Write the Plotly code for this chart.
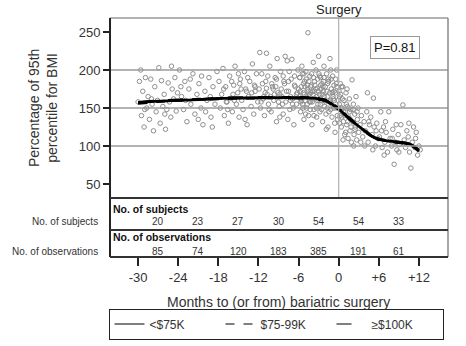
import plotly.graph_objects as go

W, H = 466, 346

# ---------------- data ----------------
scatter_x = [
    -30.0,-29.8,-29.6,-29.5,-29.3,-29.1,-28.9,-28.7,-28.5,-28.3,-28.1,-27.9,-27.7,-27.5,-27.3,-27.1,-26.9,-26.7,-26.5,-26.3,-26.1,-25.9,-25.7,-25.5,-25.3,-25.1,-24.9,-24.7,-24.5,-24.3,-24.1,-25.0,-28.0,-29.0,-26.0,
    -23.8,-23.5,-23.2,-23.0,-22.7,-22.4,-22.1,-21.8,-21.5,-21.2,-20.9,-20.6,-20.3,-20.0,-19.7,-19.4,-19.1,-18.8,-18.5,-18.2,-22.9,-21.0,-19.9,-23.6,-20.5,-18.9,-22.2,-19.2,
    -17.9,-17.7,-17.5,-17.3,-17.1,-16.9,-16.7,-16.5,-16.3,-16.1,-15.9,-15.7,-15.5,-15.3,-15.1,-14.9,-14.7,-14.5,-14.3,-14.1,-13.9,-13.7,-13.5,-13.3,-13.1,-12.9,-12.7,-12.5,-12.3,-12.1,-17.2,-16.0,-15.0,-14.0,-13.0,-12.6,-16.6,-15.6,-14.6,-13.6,
    -11.9,-11.7,-11.5,-11.3,-11.1,-10.9,-10.7,-10.5,-10.3,-10.1,-9.9,-9.7,-9.5,-9.3,-9.1,-8.9,-8.7,-8.5,-8.3,-8.1,-7.9,-7.7,-7.5,-7.3,-7.1,-6.9,-6.7,-6.5,-6.3,-6.1,-11.8,-10.8,-9.2,-8.0,-7.0,-11.0,-10.0,-9.0,-8.6,-7.6,-6.6,-10.4,-9.6,-8.2,-7.2,-6.2,-11.4,-10.6,-9.4,-8.8,-7.4,-6.8,-11.6,-10.2,-8.4,
    -5.9,-5.8,-5.7,-5.6,-5.5,-5.4,-5.3,-5.2,-5.1,-5.0,-4.9,-4.8,-4.7,-4.6,-4.5,-4.4,-4.3,-4.2,-4.1,-4.0,-3.9,-3.8,-3.7,-3.6,-3.5,-3.4,-3.3,-3.2,-3.1,-3.0,-2.9,-2.8,-2.7,-2.6,-2.5,-2.4,-2.3,-2.2,-2.1,-2.0,-1.9,-1.8,-1.7,-1.6,-1.5,-1.4,-1.3,-1.2,-1.1,-1.0,-0.9,-0.8,-0.7,-0.6,-0.5,-0.4,-0.3,-0.2,-0.1,
    -5.75,-5.25,-4.75,-4.25,-3.75,-3.25,-2.75,-2.25,-1.75,-1.25,-0.75,-0.25,-5.45,-4.95,-4.45,-3.95,-3.45,-2.95,-2.45,-1.95,-1.45,-0.95,-0.45,-5.65,-5.15,-4.65,-4.15,-3.65,-3.15,-2.65,-2.15,-1.65,-1.15,-0.65,-0.15,-0.55,-1.85,
    -7.8,-7.5,-7.2,-6.9,-6.6,-6.3,-6.0,-5.85,-5.55,-5.35,-5.05,-4.85,-4.55,-4.35,-4.05,-3.85,-3.55,-3.35,-3.05,-2.85,-2.55,-2.35,-2.05,-1.55,-1.35,-1.05,-0.85,-0.35,-0.05,
    -5.7,-5.2,-4.7,-4.2,-3.7,-3.2,-2.7,-2.2,-1.7,-1.2,-0.7,
    -9.8,-9.3,-8.8,-8.3,-10.8,-11.2,-12.5,-13.8,-14.8,-15.8,-16.8,
    0.1,0.2,0.3,0.4,0.5,0.6,0.7,0.8,0.9,1.0,1.1,1.2,1.3,1.4,1.5,1.6,1.7,1.8,1.9,2.0,2.1,2.2,2.3,2.4,2.5,2.6,2.7,2.8,2.9,3.0,3.2,3.4,3.6,3.8,4.0,4.2,4.3,4.4,4.6,4.8,5.0,5.2,5.3,5.5,5.7,5.9,0.25,0.75,1.25,1.75,2.25,2.75,3.3,3.9,4.5,5.1,5.6,0.45,1.05,1.55,0.15,0.65,
    0.05,0.35,0.55,0.85,1.15,1.35,1.65,1.85,2.15,2.45,0.12,0.42,
    6.1,6.3,6.5,6.7,6.9,7.1,7.3,7.5,7.7,7.9,8.1,8.3,8.5,8.7,8.9,9.1,9.3,9.6,9.8,10.0,10.2,10.4,10.6,10.8,11.0,11.2,11.4,11.6,11.8,12.0,6.4,7.0,8.0,9.0,10.5,11.5,6.8,8.6,12.2,
]
scatter_y = [
    158,185,200,140,172,125,190,150,165,135,188,155,120,178,145,160,203,130,186,152,168,122,148,183,158,138,175,162,190,146,170,205,162,148,142,
    200,165,148,185,132,175,155,195,142,168,182,150,128,172,160,190,138,178,155,198,160,135,145,178,192,125,188,165,
    185,150,168,202,140,178,158,130,192,163,145,180,205,155,170,138,188,160,148,198,175,128,165,185,152,208,142,172,195,158,175,185,195,135,170,180,148,160,175,190,
    175,150,195,162,140,185,168,155,205,145,178,160,190,132,170,152,198,165,142,182,158,212,172,148,188,162,128,178,155,200,223,222,215,218,214,170,182,158,175,135,192,148,168,185,160,170,182,192,178,138,198,150,158,165,155,
    165,190,145,178,205,155,170,135,185,160,198,150,175,249,140,168,192,158,180,128,172,210,148,185,162,200,138,176,155,218,168,145,190,160,182,132,172,205,152,178,142,195,165,125,185,158,215,148,175,138,192,162,180,130,170,150,200,140,160,
    172,182,165,148,190,165,155,185,172,160,150,178,195,142,185,158,175,195,168,158,145,170,188,158,168,180,170,172,188,175,165,182,188,160,135,118,122,
    172,185,165,155,180,168,175,190,160,150,178,188,172,158,195,168,180,150,172,192,148,178,160,188,170,155,165,182,150,
    162,195,155,178,140,160,180,190,150,200,172,
    175,188,168,192,176,165,178,172,182,168,158,
    155,140,168,125,150,178,132,160,115,145,170,128,152,110,138,162,120,148,105,187,132,155,115,142,125,165,108,135,150,118,128,140,112,132,120,145,170,105,128,138,115,163,125,100,130,110,182,145,175,135,100,145,105,100,132,95,120,138,118,150,130,108,
    172,150,162,140,155,132,145,125,148,122,165,178,
    112,145,98,125,105,118,92,145,110,100,122,76,105,95,115,102,128,154,108,98,120,112,92,71,105,125,98,118,88,100,120,132,110,92,130,110,88,128,95,
]

fit_x = [-30, -27, -24, -21, -18, -15, -12, -9, -6, -4, -3, -2, -1, 0, 1, 2, 3, 4, 5, 6, 7, 8, 9, 10, 11, 12]
fit_low = [157, 159, 160, 161, 162.5, 163, 163.5, 163.5, 163.5, 163, 162, 160, 155, 148, 141, 133, 126, 119, 113, 109, 107, 106, 105, 104, 101, 94]
fit_mid = [156, 158.5, 160, 161.5, 162, 163, 163, 164, 164, 163.5, 162.5, 160.5, 156, 149, 141.5, 133.5, 126, 119.5, 113.5, 109, 107.5, 106, 104.5, 103, 100, 93]
fit_high = [157.5, 159.5, 160.5, 161, 163, 163.5, 164, 163, 163, 162.5, 161.5, 159.5, 154.5, 147.5, 140.5, 132.5, 125.5, 118.5, 112.5, 108.5, 106.5, 105.5, 105, 103.5, 101.5, 95]

legend_names = ["<$75K", "$75-99K", "\u2265$100K"]
legend_dash = ["solid", "dash", "longdash"]

bin_mid = [-27, -21, -15, -9, -3, 3, 9]
n_subjects = [20, 23, 27, 30, 54, 54, 33]
n_observations = [85, 74, 120, 183, 385, 191, 61]

tick_vals = [-30, -24, -18, -12, -6, 0, 6, 12]
tick_text = ["-30", "-24", "-18", "-12", "-6", "0", "+6", "+12"]
y_ticks = [50, 100, 150, 200, 250]
grid_vals = [100, 150, 200]

# ---------------- helpers ----------------
def px(x):
    return x / W

def py(y):
    return 1 - y / H

FONT = "Liberation Sans, Arial, sans-serif"

fig = go.Figure()

fig.add_trace(go.Scatter(
    x=scatter_x, y=scatter_y, mode="markers",
    marker=dict(symbol="circle-open", size=4.5, color="#8e8e8e", line=dict(width=1)),
    showlegend=False, hoverinfo="skip"))

for ys, d in zip([fit_low, fit_mid, fit_high], legend_dash):
    fig.add_trace(go.Scatter(x=fit_x, y=ys, mode="lines", line=dict(color="black", width=2.8, dash=d, shape="spline"),
                             showlegend=False))

for name, d in zip(legend_names, legend_dash):
    fig.add_trace(go.Scatter(x=[None], y=[None], mode="lines", name=name,
                             line=dict(color="black", width=1.2, dash=d)))

top, main_bot, mid_line, tab_bot = 18, 198, 230, 257
left, right = 110, 448

shapes = []
for g in grid_vals:
    shapes.append(dict(type="line", xref="x domain", yref="y", x0=0, x1=1, y0=g, y1=g,
                       line=dict(color="#9a9a9a", width=1.5)))
shapes.append(dict(type="line", xref="x", yref="y domain", x0=0, x1=0, y0=0, y1=1,
                   line=dict(color="#b0b0b0", width=1.2)))
# frame
shapes.append(dict(type="line", xref="paper", yref="paper", x0=px(left), x1=px(right), y0=py(top), y1=py(top),
                   line=dict(color="#999999", width=1.5)))
shapes.append(dict(type="line", xref="paper", yref="paper", x0=px(right), x1=px(right), y0=py(top), y1=py(tab_bot),
                   line=dict(color="#888888", width=1.5)))
shapes.append(dict(type="line", xref="paper", yref="paper", x0=px(left), x1=px(left), y0=py(top), y1=py(tab_bot),
                   line=dict(color="#222222", width=2)))
for yy in [main_bot, mid_line, tab_bot]:
    shapes.append(dict(type="line", xref="paper", yref="paper", x0=px(left), x1=px(right), y0=py(yy), y1=py(yy),
                       line=dict(color="#333333", width=2)))

ann = []
ann.append(dict(text="Surgery", x=0, xref="x", y=py(9), yref="paper", showarrow=False,
                font=dict(size=13, color="#222"), xanchor="center", yanchor="middle"))
ann.append(dict(text="Percentage of 95th<br>percentile for BMI", x=px(43), xref="paper", y=py(108), yref="paper",
                showarrow=False, textangle=-90, font=dict(size=14, color="#333"), xanchor="center", yanchor="middle"))
ann.append(dict(text="P=0.81", x=px(395), xref="paper", y=py(47), yref="paper", showarrow=False,
                font=dict(size=13, color="#111"), bordercolor="#999", borderwidth=1, borderpad=3, bgcolor="white",
                xanchor="center", yanchor="middle"))
ann.append(dict(text="No. of subjects", x=px(100), xref="paper", y=py(222), yref="paper", showarrow=False,
                font=dict(size=10, color="#333"), xanchor="right", yanchor="middle"))
ann.append(dict(text="No. of observations", x=px(100), xref="paper", y=py(251), yref="paper", showarrow=False,
                font=dict(size=10, color="#333"), xanchor="right", yanchor="middle"))
ann.append(dict(text="<b>No. of subjects</b>", x=px(111), xref="paper", y=py(209), yref="paper", showarrow=False,
                font=dict(size=10.5, color="#111"), xanchor="left", yanchor="middle"))
ann.append(dict(text="<b>No. of observations</b>", x=px(111), xref="paper", y=py(237), yref="paper", showarrow=False,
                font=dict(size=10.5, color="#111"), xanchor="left", yanchor="middle"))
for xm, ns, no in zip(bin_mid, n_subjects, n_observations):
    ann.append(dict(text=str(ns), x=xm, xref="x", y=py(222), yref="paper", showarrow=False,
                    font=dict(size=10, color="#333"), xanchor="center", yanchor="middle"))
    ann.append(dict(text=str(no), x=xm, xref="x", y=py(251), yref="paper", showarrow=False,
                    font=dict(size=10, color="#333"), xanchor="center", yanchor="middle"))
ann.append(dict(text="Months to (or from) bariatric surgery", x=px(278), xref="paper", y=py(302), yref="paper",
                showarrow=False, font=dict(size=14, color="#333"), xanchor="center", yanchor="middle"))

fig.update_layout(
    width=W, height=H, margin=dict(l=0, r=0, t=0, b=0),
    paper_bgcolor="white", plot_bgcolor="white",
    font=dict(family=FONT, color="#333"),
    xaxis=dict(domain=[px(left), px(right)], range=[-34.2, 16.35], anchor="free", position=py(tab_bot),
               tickvals=tick_vals, ticktext=tick_text, ticks="outside", ticklen=8, tickwidth=1.5, tickcolor="#222",
               showgrid=False, zeroline=False, showline=False, tickfont=dict(size=13, color="#333")),
    yaxis=dict(domain=[py(main_bot), py(top)], range=[31.6, 268.4], tickvals=y_ticks,
               ticks="outside", ticklen=6, tickwidth=1.5, tickcolor="#222", showgrid=False, zeroline=False,
               showline=False, tickfont=dict(size=13, color="#333")),
    shapes=shapes, annotations=ann,
    legend=dict(orientation="h", x=px(276), xanchor="center", y=py(324), yanchor="middle",
                bordercolor="#222", borderwidth=1, font=dict(size=12, color="#333"),
                entrywidth=66, entrywidthmode="pixels", tracegroupgap=0),
)

fig.write_html("out.html")
